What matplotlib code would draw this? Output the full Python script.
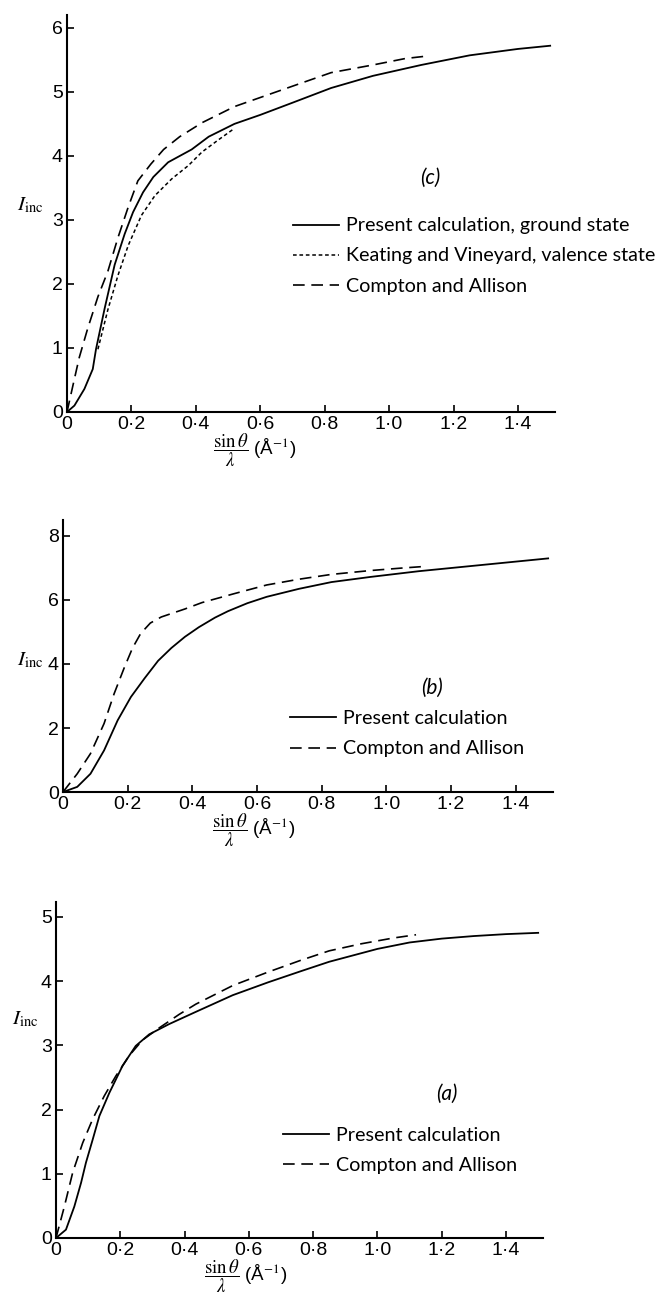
import matplotlib
matplotlib.use("Agg")
import matplotlib.pyplot as plt

plt.rcParams["font.family"] = ["Liberation Sans", "DejaVu Sans"]
plt.rcParams["mathtext.fontset"] = "stix"

# panel (c)
c_solid_x = [0, 0.023, 0.054, 0.08, 0.09, 0.117, 0.148, 0.179, 0.205, 0.236, 0.268, 0.314,
             0.387, 0.44, 0.52, 0.6, 0.7, 0.82, 0.95, 1.1, 1.25, 1.4, 1.5]
c_solid_y = [0, 0.1, 0.36, 0.67, 0.98, 1.62, 2.3, 2.78, 3.12, 3.43, 3.67, 3.9,
             4.1, 4.3, 4.5, 4.64, 4.83, 5.06, 5.25, 5.42, 5.57, 5.67, 5.72]
c_kv_x = [0.096, 0.127, 0.158, 0.19, 0.231, 0.273, 0.325, 0.377, 0.419, 0.47, 0.52]
c_kv_y = [0.98, 1.6, 2.13, 2.6, 3.07, 3.38, 3.64, 3.85, 4.06, 4.25, 4.43]
c_ca_x = [0, 0.02, 0.038, 0.064, 0.096, 0.127, 0.158, 0.19, 0.22, 0.26, 0.30, 0.35, 0.42,
          0.52, 0.65, 0.82, 0.95, 1.05, 1.12]
c_ca_y = [0, 0.45, 0.85, 1.3, 1.8, 2.2, 2.72, 3.2, 3.61, 3.87, 4.1, 4.3, 4.52,
          4.77, 5.0, 5.3, 5.42, 5.52, 5.56]

# panel (b)
b_solid_x = [0, 0.044, 0.085, 0.127, 0.169, 0.21, 0.252, 0.294, 0.335, 0.377, 0.42, 0.47,
             0.51, 0.57, 0.63, 0.73, 0.83, 0.95, 1.1, 1.25, 1.4, 1.5]
b_solid_y = [0, 0.16, 0.57, 1.3, 2.24, 2.97, 3.55, 4.1, 4.5, 4.85, 5.15, 5.45,
             5.65, 5.9, 6.1, 6.35, 6.56, 6.72, 6.9, 7.05, 7.2, 7.3]
b_ca_x = [0, 0.044, 0.085, 0.127, 0.158, 0.19, 0.215, 0.24, 0.27, 0.304, 0.377, 0.43,
          0.53, 0.63, 0.73, 0.83, 0.95, 1.05, 1.12]
b_ca_y = [0, 0.57, 1.2, 2.14, 3.07, 3.9, 4.5, 4.95, 5.28, 5.47, 5.72, 5.92,
          6.2, 6.47, 6.65, 6.8, 6.92, 7.0, 7.05]

# panel (a)
a_solid_x = [0, 0.031, 0.057, 0.078, 0.093, 0.114, 0.135, 0.166, 0.207, 0.248, 0.29, 0.352,
             0.435, 0.55, 0.66, 0.76, 0.85, 1.0, 1.1, 1.2, 1.3, 1.4, 1.5]
a_solid_y = [0, 0.13, 0.49, 0.86, 1.17, 1.53, 1.9, 2.26, 2.68, 2.99, 3.17, 3.33,
             3.52, 3.78, 3.98, 4.15, 4.3, 4.5, 4.6, 4.66, 4.7, 4.73, 4.75]
a_ca_x = [0, 0.026, 0.052, 0.083, 0.114, 0.15, 0.186, 0.228, 0.269, 0.321, 0.383, 0.435,
          0.55, 0.66, 0.76, 0.85, 0.95, 1.05, 1.12]
a_ca_y = [0, 0.49, 1.02, 1.48, 1.85, 2.21, 2.52, 2.84, 3.08, 3.27, 3.48, 3.64,
          3.93, 4.14, 4.32, 4.47, 4.58, 4.67, 4.72]

x_ticks = [0, 0.2, 0.4, 0.6, 0.8, 1.0, 1.2, 1.4]
x_tick_labels = ["0", "0·2", "0·4", "0·6", "0·8", "1·0", "1·2", "1·4"]

W, H = 659, 1307
fig = plt.figure(figsize=(W / 100, H / 100), dpi=100)


def make_axes(left, right, bottom, top):
    # pixel box -> figure fraction
    return fig.add_axes([left / W, 1 - bottom / H, (right - left) / W, (bottom - top) / H])


SOLID = dict(color="black", lw=1.3, ls="-")
DASH = dict(color="black", lw=1.2, ls=(0, (7, 4)))
DOT = dict(color="black", lw=1.1, ls=(0, (2.4, 1.8)))


def style(ax, ymax, yticks, xlab_x, ylab_pos, tag, tag_pos):
    ax.set_xlim(0, 1.515)
    ax.set_ylim(0, ymax)
    for s in ["top", "right"]:
        ax.spines[s].set_visible(False)
    for s in ["left", "bottom"]:
        ax.spines[s].set_linewidth(1.5)
    ax.set_xticks(x_ticks)
    ax.set_xticklabels(x_tick_labels)
    ax.set_yticks(yticks)
    ax.tick_params(direction="in", length=5, width=1.2, labelsize=14, pad=3)
    ax.annotate(r"$\dfrac{\sin\theta}{\lambda}$ (Å$^{-1}$)", xy=(xlab_x, 0),
                xycoords="axes fraction", xytext=(0, -14), textcoords="offset points",
                ha="center", va="top", fontsize=13.5)
    ax.text(ylab_pos[0], ylab_pos[1], r"$I_{\mathrm{inc}}$", transform=ax.transAxes,
            ha="center", va="center", fontsize=15)
    ax.text(tag_pos[0], tag_pos[1], "(" + tag + ")", transform=ax.transAxes,
            ha="center", va="center", fontsize=15, family=["Lato", "DejaVu Sans"],
            style="italic")


def legend(ax, x, y):
    ax.legend(loc="upper left", bbox_to_anchor=(x, y), frameon=False, borderpad=0,
              borderaxespad=0, handlelength=2.35, handletextpad=0.35, labelspacing=0.66,
              prop={"family": ["Lato", "DejaVu Sans"], "size": 14.2})


# (c)
ax = make_axes(67, 555, 412, 15)
ax.plot(c_solid_x, c_solid_y, label="Present calculation, ground state", **SOLID)
ax.plot(c_kv_x, c_kv_y, label="Keating and Vineyard, valence state", **DOT)
ax.plot(c_ca_x, c_ca_y, label="Compton and Allison", **DASH)
style(ax, 6.2, [0, 1, 2, 3, 4, 5, 6], 0.385, (-0.076, 0.52), "c", (0.744, 0.59))
legend(ax, 0.463, 0.49)

# (b)
ax = make_axes(63, 553, 792, 520)
ax.plot(b_solid_x, b_solid_y, label="Present calculation", **SOLID)
ax.plot(b_ca_x, b_ca_y, label="Compton and Allison", **DASH)
style(ax, 8.5, [0, 2, 4, 6, 8], 0.39, (-0.067, 0.485), "b", (0.753, 0.382))
legend(ax, 0.463, 0.30)

# (a)
ax = make_axes(56, 543, 1238, 902)
ax.plot(a_solid_x, a_solid_y, label="Present calculation", **SOLID)
ax.plot(a_ca_x, a_ca_y, label="Compton and Allison", **DASH)
style(ax, 5.23, [0, 1, 2, 3, 4, 5], 0.39, (-0.064, 0.65), "a", (0.803, 0.43))
legend(ax, 0.466, 0.33)

fig.savefig("out.png", dpi=100)
